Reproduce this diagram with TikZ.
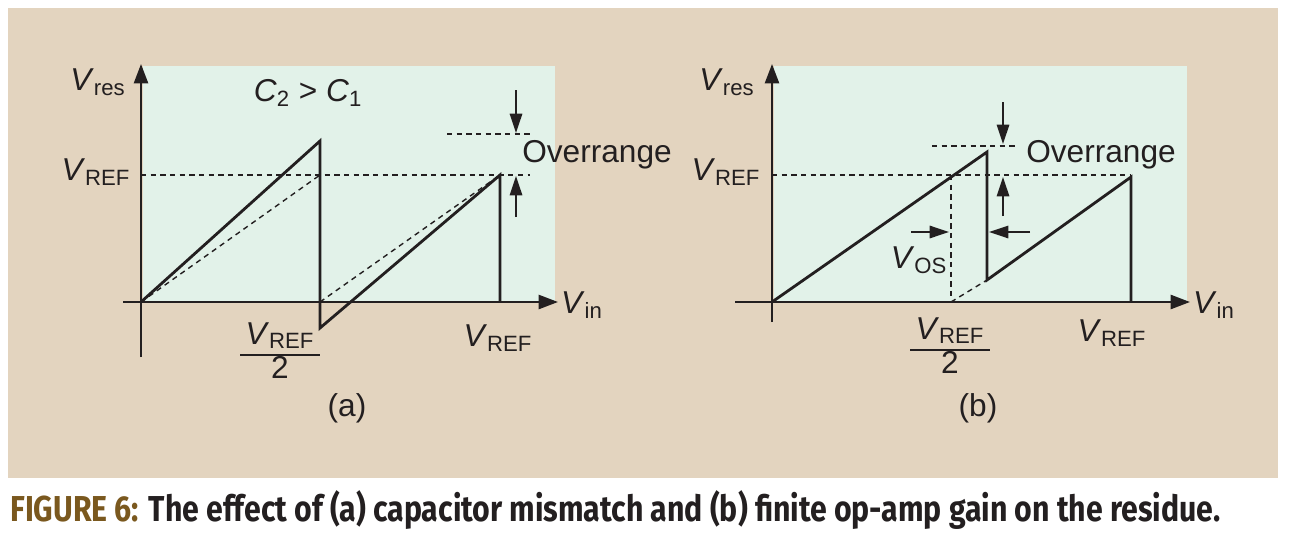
\documentclass[tikz,border=0pt]{standalone}
\usepackage{fontspec}
\setmainfont{Liberation Sans}
\newfontfamily\capfont{Fira Sans}
\usepackage{graphicx}
\usetikzlibrary{arrows.meta}
\definecolor{sand}{RGB}{227, 212, 191}
\definecolor{mint}{RGB}{226, 242, 233}
\definecolor{ink}{RGB}{35, 31, 32}
\definecolor{rust}{RGB}{122, 88, 30}
\newcommand{\Vs}[1]{\textit{V}\textsubscript{#1}}
\newcommand{\halfref}{{\setlength{\arrayrulewidth}{1.5pt}\renewcommand{\arraystretch}{0.95}%
  \begin{tabular}{@{\,}c@{\,}}\Vs{REF}\\\hline 2\end{tabular}}}

\begin{document}
\begin{tikzpicture}[x=0.02cm, y=-0.02cm,
    trace/.style={ink, line width=1.6},
    guide/.style={ink, line width=0.8, dash pattern=on 3pt off 2.5pt},
    axis/.style={ink, line width=1.3, -{Triangle[length=11pt, width=8pt]}},
    tip/.style={ink, line width=1.2, -{Triangle[length=11pt, width=7pt]}},
    lbl/.style={font=\fontsize{18}{19}\selectfont, text=ink, inner sep=0}]
  \useasboundingbox (0, 0) rectangle (1290, 534);
  \fill[white] (0, 0) rectangle (1290, 534);
  \fill[sand] (8, 8) rectangle (1278, 478);

  % (a) capacitor mismatch
  \begin{scope}
    \fill[mint] (143, 66) rectangle (555, 302);
    \draw[guide] (141, 302) -- (320, 175);
    \draw[guide] (320, 302) -- (500, 175);
    \draw[guide] (141, 175) -- (530, 175);
    \draw[guide] (447, 134) -- (530, 134);
    \draw[ink, line width=1.3] (141, 357) -- (141, 302);
    \draw[axis] (141, 302) -- (141, 64);
    \draw[axis] (123, 302) -- (558, 302);
    \draw[trace] (141, 302) -- (320, 141) -- (320, 328) -- (500, 175) -- (500, 302);
    \draw[tip] (516, 90) -- (516, 133);
    \draw[tip] (516, 217) -- (516, 176);
    \node[lbl] (resA) at (98, 82) {\Vs{res}};
    \node[lbl] (capA) at (308, 93) {\textit{C}\textsubscript{2} > \textit{C}\textsubscript{1}};
    \node[lbl] (refA) at (96, 172) {\Vs{REF}};
    \node[lbl] (overA) at (597, 155) {Overrange};
    \node[lbl] (inA) at (582, 305) {\Vs{in}};
    \node[lbl] (halfA) at (280, 355) {\halfref};
    \node[lbl] (fullA) at (498, 338) {\Vs{REF}};
    \node[lbl] (tagA) at (347, 408) {(a)};
  \end{scope}

  % (b) finite op-amp gain
  \begin{scope}
    \fill[mint] (774, 66) rectangle (1187, 302);
    \draw[guide] (772, 175) -- (1131, 175);
    \draw[guide] (951, 175) -- (951, 302);
    \draw[guide] (951, 302) -- (987, 280);
    \draw[guide] (932, 146) -- (1015, 146);
    \draw[ink, line width=1.3] (772, 322) -- (772, 302);
    \draw[axis] (772, 302) -- (772, 64);
    \draw[axis] (735, 302) -- (1190, 302);
    \draw[trace] (772, 302) -- (987, 152) -- (987, 280) -- (1131, 177) -- (1131, 302);
    \draw[tip] (1003, 102) -- (1003, 144);
    \draw[tip] (1003, 216) -- (1003, 177);
    \draw[tip] (911, 232) -- (949, 232);
    \draw[tip] (1030, 232) -- (989, 232);
    \node[lbl] (resB) at (727, 82) {\Vs{res}};
    \node[lbl] (refB) at (726, 172) {\Vs{REF}};
    \node[lbl] (overB) at (1101, 155) {Overrange};
    \node[lbl] (osB) at (919, 260) {\Vs{OS}};
    \node[lbl] (inB) at (1214, 305) {\Vs{in}};
    \node[lbl] (halfB) at (950, 350) {\halfref};
    \node[lbl] (fullB) at (1112, 333) {\Vs{REF}};
    \node[lbl] (tagB) at (978, 408) {(b)};
  \end{scope}

  \node[anchor=west, inner sep=0] (caption) at (10, 510)
    {\scalebox{0.84}[1]{\capfont\bfseries\fontsize{20.5}{21}\selectfont
     \textcolor{rust}{FIGURE 6:} \textcolor{ink}{The effect of (a) capacitor mismatch and (b) finite op-amp gain on the residue.}}};
\end{tikzpicture}
\end{document}
